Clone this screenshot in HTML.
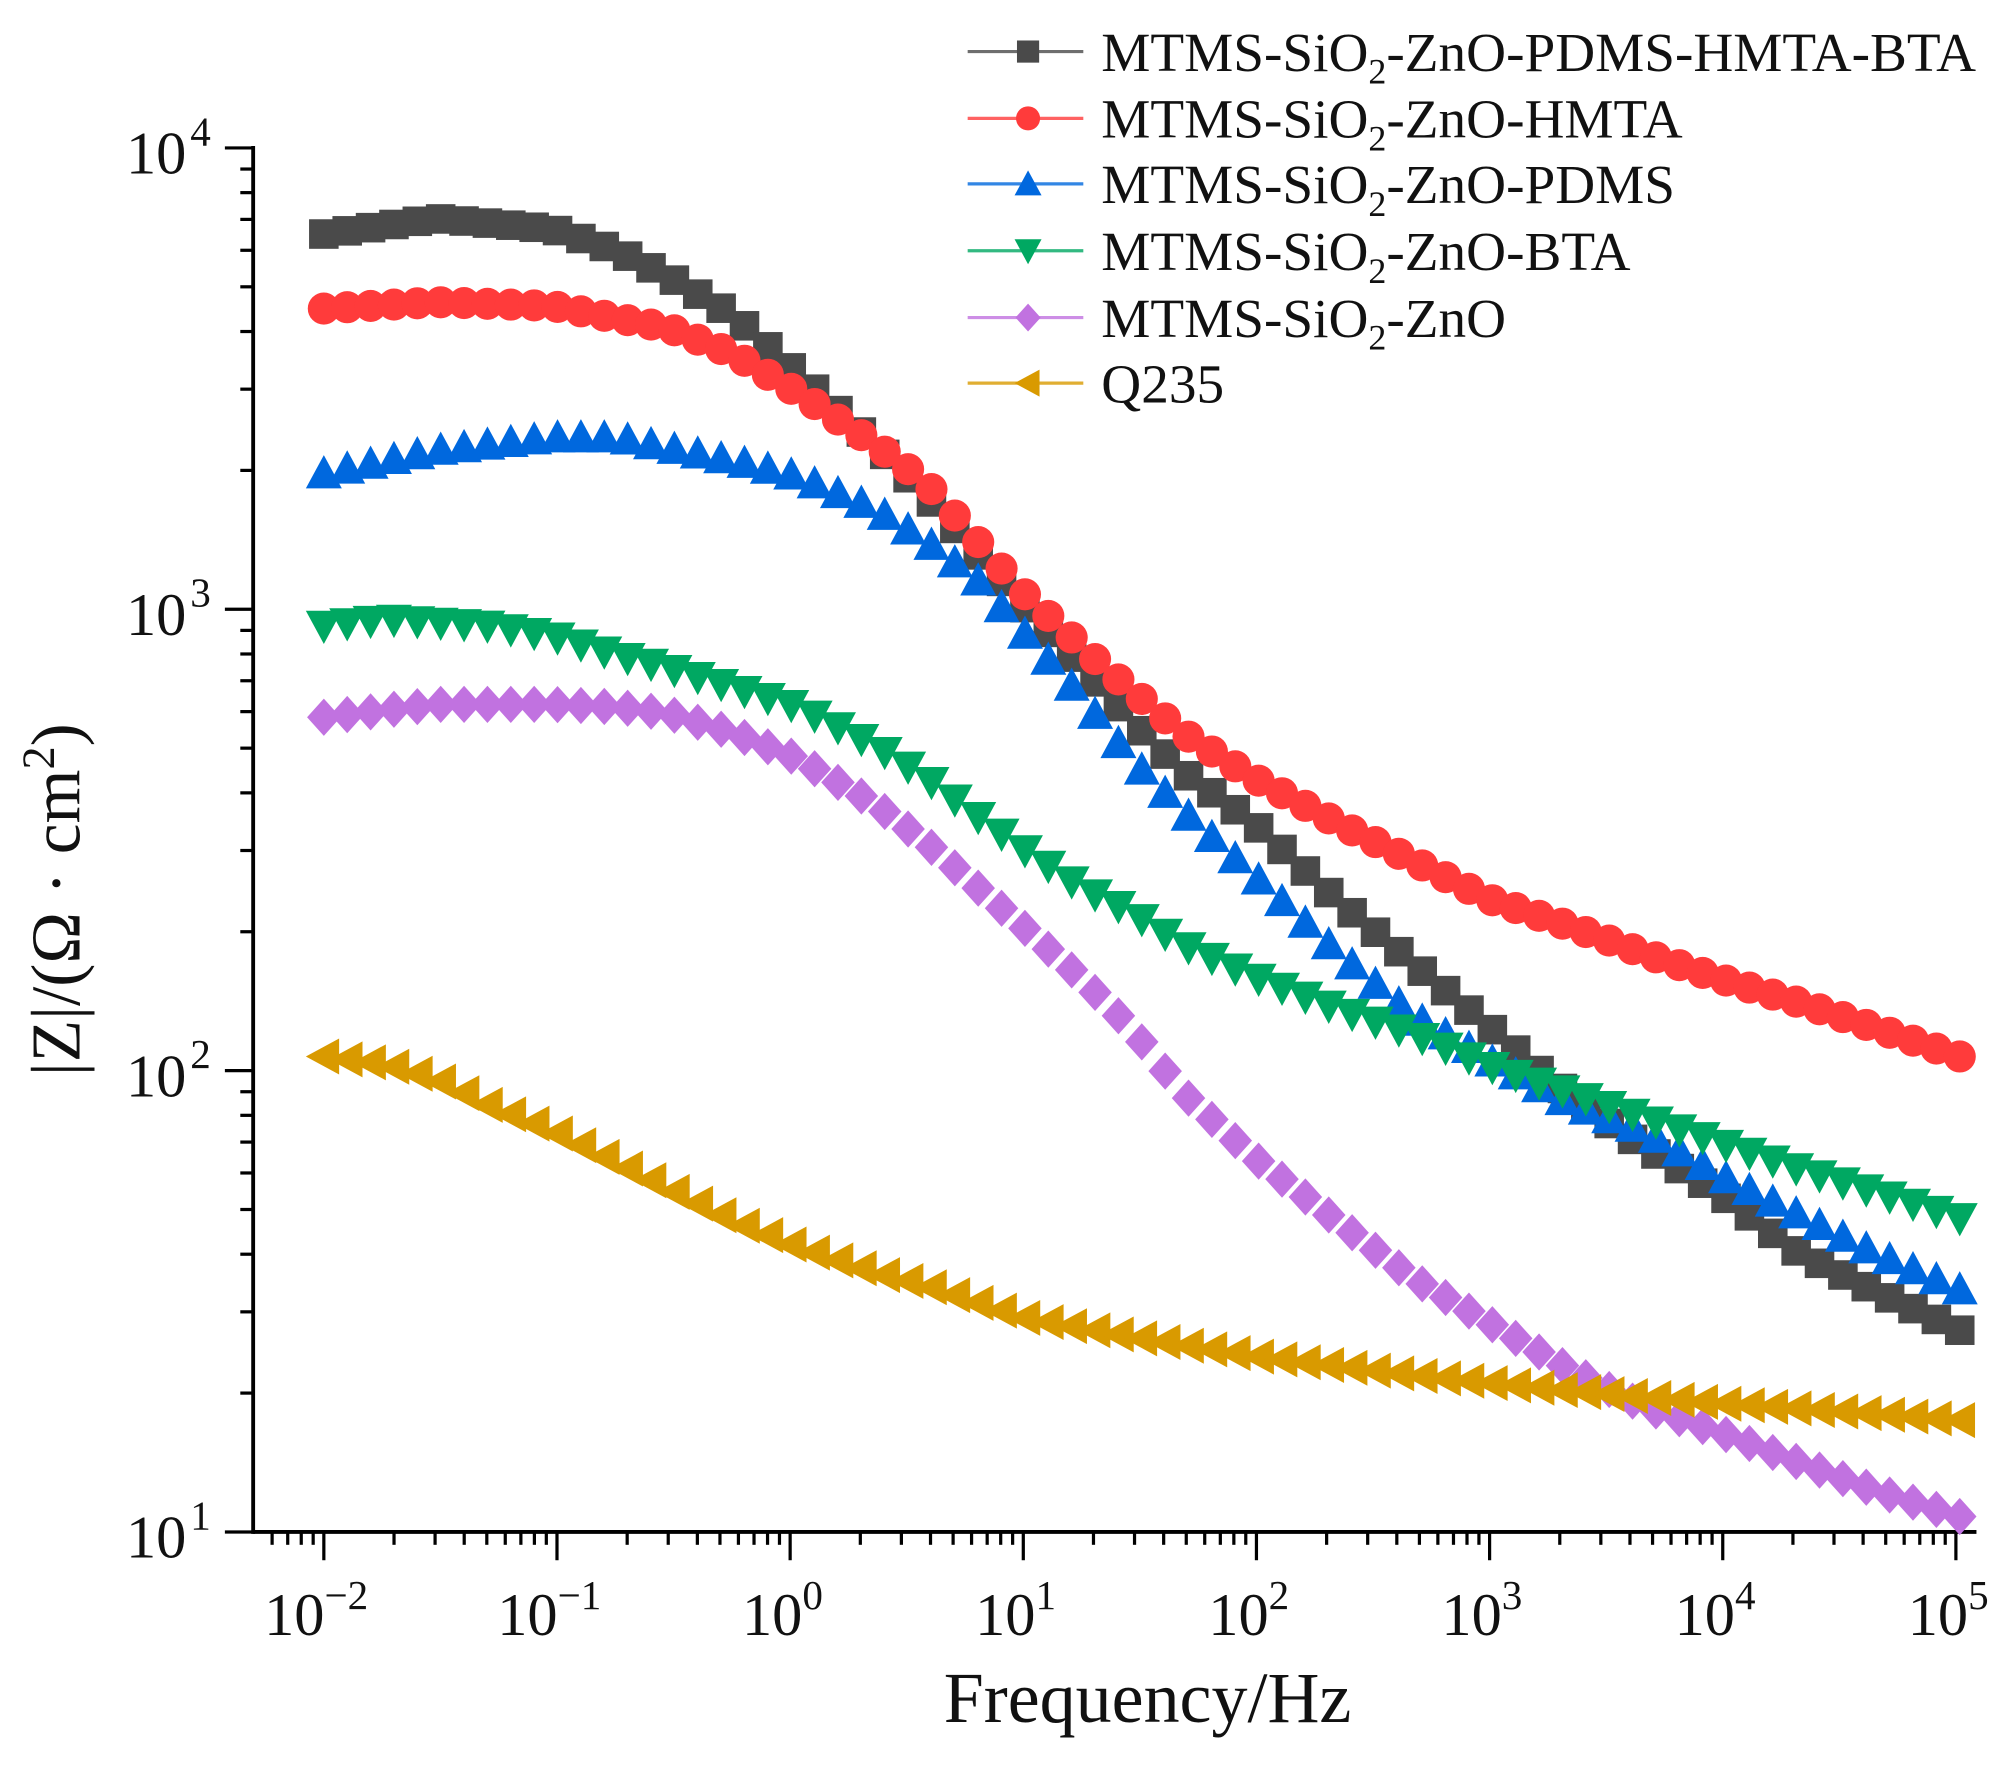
<!DOCTYPE html>
<html><head><meta charset="utf-8"><style>
html,body{margin:0;padding:0;background:#fff;}
svg{display:block;}
text{font-family:"Liberation Serif",serif;fill:#111;}
</style></head><body>
<svg id="s" width="2015" height="1766" viewBox="0 0 1568 1374" xmlns="http://www.w3.org/2000/svg"></svg>
<script>
const S=document.getElementById('s');let h='';
const X0=252,DX=181.43,Y0=115,DY=359;
const fx=lf=>X0+(lf+2)*DX, fy=lz=>Y0+(4-lz)*DY;
h+='<line x1="197" y1="1192" x2="1538" y2="1192" stroke="#000" stroke-width="3"/>';
h+='<line x1="197" y1="113.5" x2="197" y2="1193.5" stroke="#000" stroke-width="3"/>';
for(let d=-3;d<=5;d++){for(let m=1;m<=9;m++){const lf=d+Math.log10(m);const x=fx(lf);if(x<199||x>1538)continue;
 const L=m==1?22:10;h+=`<line x1="${x}" y1="1192" x2="${x}" y2="${1192+L}" stroke="#000" stroke-width="2.5"/>`;}}
for(let d=-2;d<=5;d++){const x=fx(d);h+=`<text x="${x-6}" y="1272" font-size="47" text-anchor="middle">10<tspan dy="-20" font-size="32">${d<0?'\u2212'+(-d):d}</tspan></text>`;}
for(let d=1;d<=4;d++){for(let m=1;m<=9;m++){if(d==4&&m>1)continue;const lz=d+Math.log10(m);const y=fy(lz);
 const L=m==1?22:10;h+=`<line x1="${197-L}" y1="${y}" x2="197" y2="${y}" stroke="#000" stroke-width="2.5"/>`;}
 const y=fy(d);h+=`<text x="145" y="${y+20}" font-size="47" text-anchor="end">10</text><text x="148" y="${y-2}" font-size="32">${d}</text>`;}
h+='<text x="893" y="1340" font-size="56" text-anchor="middle">Frequency/Hz</text>';
h+='<text transform="translate(62,700) rotate(-90)" font-size="54" text-anchor="middle">|Z|/(Ω · cm<tspan dy="-20" font-size="36">2</tspan><tspan dy="20">)</tspan></text>';
const series=[
 {c:'#4a4a4a',m:'sq',p:[[252,182],[340,170],[430,178],[480,195],[520,215],[570,245],[620,290],[680,345],[720,385],[795,470],[880,560],[920,600],[975,640],[1040,700],[1100,750],[1160,800],[1200,835],[1260,880],[1340,930],[1400,975],[1460,1005],[1525,1035]]},
 {c:'#ff3b3b',m:'ci',p:[[252,240],[340,235],[430,238],[520,255],[570,275],[620,305],[680,345],[720,375],[795,460],[860,520],[920,570],[975,605],[1040,640],[1100,670],[1160,700],[1220,720],[1280,742],[1340,762],[1400,780],[1460,800],[1525,822]]},
 {c:'#0068de',m:'up',p:[[252,368],[340,350],[430,340],[480,340],[530,350],[580,360],[620,370],[680,395],[720,420],[760,450],[795,490],[840,540],[880,590],[920,630],[975,680],[1040,740],[1100,790],[1160,825],[1220,858],[1280,880],[1340,915],[1400,945],[1460,975],[1525,1003]]},
 {c:'#00a862',m:'dn',p:[[252,487],[300,482],[380,487],[430,495],[480,510],[520,520],[570,535],[620,550],[680,580],[720,605],[760,635],[795,660],[840,690],[880,710],[920,735],[975,760],[1040,785],[1100,805],[1160,830],[1220,850],[1280,870],[1340,890],[1400,910],[1460,928],[1525,948]]},
 {c:'#c172e0',m:'di',p:[[252,558],[340,548],[430,548],[480,550],[520,555],[570,570],[620,590],[680,625],[720,655],[760,690],[795,720],[840,760],[880,800],[920,850],[975,900],[1040,950],[1100,995],[1160,1030],[1220,1065],[1280,1095],[1340,1115],[1400,1138],[1460,1160],[1525,1180]]},
 {c:'#d99a00',m:'lf',p:[[252,822],[300,828],[340,840],[380,860],[430,880],[480,905],[520,925],[570,950],[620,970],[680,990],[720,1000],[795,1025],[880,1040],[975,1055],[1100,1070],[1220,1082],[1340,1092],[1460,1100],[1525,1105]]}
];
function interp(p,x){for(let i=0;i<p.length-1;i++){if(x<=p[i+1][0]){const t=(x-p[i][0])/(p[i+1][0]-p[i][0]);return p[i][1]+t*(p[i+1][1]-p[i][1]);}}return p[p.length-1][1];}
function mk(t,x,y,c,s){s=s||1;
 if(t=='sq'){const a=11.5*s;return `<rect x="${x-a}" y="${y-a}" width="${2*a}" height="${2*a}" fill="${c}"/>`;}
 if(t=='ci')return `<circle cx="${x}" cy="${y}" r="${12.5*s}" fill="${c}"/>`;
 if(t=='up'){const a=14*s;return `<polygon points="${x},${y-a} ${x+a},${y+a*0.85} ${x-a},${y+a*0.85}" fill="${c}"/>`;}
 if(t=='dn'){const a=14*s;return `<polygon points="${x},${y+a} ${x+a},${y-a*0.85} ${x-a},${y-a*0.85}" fill="${c}"/>`;}
 if(t=='di'){const a=14.5*s;return `<polygon points="${x},${y-a} ${x+a*0.9},${y} ${x},${y+a} ${x-a*0.9},${y}" fill="${c}"/>`;}
 if(t=='lf'){const a=14*s;return `<polygon points="${x-a},${y} ${x+a*0.85},${y-a} ${x+a*0.85},${y+a}" fill="${c}"/>`;}
}
for(const se of series){let g='';for(let k=0;k<=70;k++){const x=252+k*(1525-252)/70;g+=mk(se.m,x,interp(se.p,x),se.c);}h+=g;}
const names=[['MTMS-SiO','-ZnO-PDMS-HMTA-BTA'],['MTMS-SiO','-ZnO-HMTA'],['MTMS-SiO','-ZnO-PDMS'],['MTMS-SiO','-ZnO-BTA'],['MTMS-SiO','-ZnO'],['Q235','']];
const ly=[40,92,143,195,247,298];
series.forEach((se,i)=>{const y=ly[i];
 h+=`<line x1="753" y1="${y}" x2="843" y2="${y}" stroke="${se.c}" stroke-width="2.5" opacity="0.8"/>`;
 h+=mk(se.m,800,y,se.c,0.75);
 const n=names[i];
 if(n[1]) h+=`<text x="857" y="${y+15}" font-size="43">${n[0]}<tspan dy="10" font-size="28">2</tspan><tspan dy="-10">${n[1]}</tspan></text>`;
 else h+=`<text x="857" y="${y+15}" font-size="43">${n[0]}</text>`;
});
S.innerHTML=h;
</script>
</body></html>
